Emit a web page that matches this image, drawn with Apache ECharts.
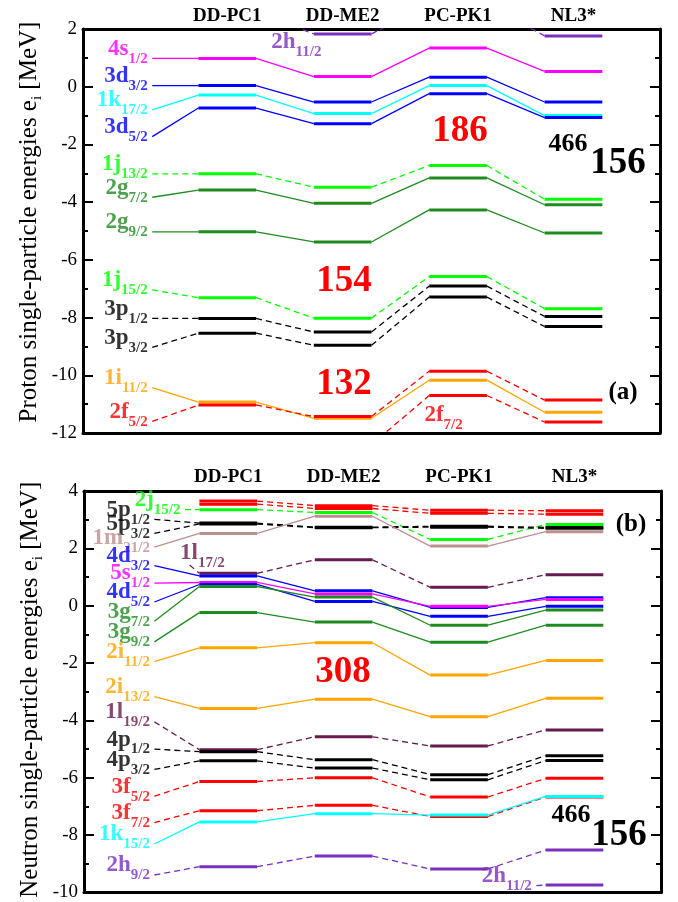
<!DOCTYPE html>
<html><head><meta charset="utf-8">
<script src="https://cdn.jsdelivr.net/npm/echarts@6/dist/echarts.min.js"></script>
<style>html,body{margin:0;padding:0;background:#fff}#c{width:678px;height:902px}</style>
</head><body><div id="c"></div>
<script>
// ---------------- DATA ----------------
const models = ['DD-PC1', 'DD-ME2', 'PC-PK1', 'NL3*'];

// Proton single-particle levels (MeV)
const protonStates = ['4s_1/2','3d_3/2','1k_17/2','3d_5/2','1j_13/2','2g_7/2','2g_9/2','1j_15/2','3p_1/2','3p_3/2','1i_11/2','2f_5/2','2f_7/2','2h_11/2'];
const protonDDPC1 = [0.98, 0.04, -0.29, -0.74, -3.02, -3.58, -5.03, -7.31, -8.03, -8.54, -10.93, -11.03, null, 2.60];
const protonDDME2 = [0.35, -0.53, -0.93, -1.28, -3.48, -4.04, -5.38, -8.02, -8.50, -8.96, -11.49, -11.43, -12.40, 1.83];
const protonPCPK1 = [1.34, 0.33, 0.04, -0.24, -2.73, -3.16, -4.27, -6.58, -6.91, -7.29, -10.17, -9.86, -10.70, 2.85];
const protonNL3 = [0.53, -0.53, -1.00, -1.07, -3.90, -4.09, -5.07, -7.69, -7.96, -8.31, -11.28, -10.86, -11.62, 1.76];
const protonLabelAt = [0.98, 0.04, -0.80, -1.73, -3.02, -3.83, -5.03, -7.04, -8.03, -9.03, -10.43, -11.60, -11.72, 1.21];
const protonColor = ['mag','blue','cyan','blue','lime','green','green','lime','black','black','orange','red','red','violet'];
const protonDashed = [0,0,0,0,1,0,0,1,1,1,0,1,1,1];

// Neutron single-particle levels (MeV)
const neutronStates = ['4f_a','4f_b','2j_15/2','5p_1/2','5p_3/2','1m_21/2','1l_17/2','4d_3/2','5s_1/2','4d_5/2','3g_7/2','3g_9/2','2i_11/2','2i_13/2','1l_19/2','4p_1/2','4p_3/2','3f_5/2','3f_7/2','1k_15/2','2h_9/2','2h_11/2'];
const neutronDDPC1 = [3.65, 3.54, 3.35, 2.88, 2.85, 2.52, 1.13, 1.04, 0.81, 0.74, 0.67, -0.24, -1.47, -3.58, -5.02, -5.09, -5.41, -6.13, -7.15, -7.54, -9.10, null];
const neutronDDME2 = [3.49, 3.39, 3.25, 2.74, 2.72, 3.12, 1.60, 0.52, 0.41, 0.15, 0.30, -0.57, -1.29, -3.26, -4.57, -5.37, -5.66, -6.00, -6.96, -7.25, -8.73, null];
const neutronPCPK1 = [3.33, 3.22, 2.31, 2.77, 2.74, 2.08, 0.64, -0.06, -0.02, -0.37, -0.68, -1.27, -2.42, -3.87, -4.89, -5.89, -6.07, -6.67, -7.35, -7.30, -9.18, null];
const neutronNL3 = [3.31, 3.19, 2.83, 2.73, 2.70, 2.58, 1.08, 0.28, 0.22, -0.02, -0.15, -0.68, -1.91, -3.23, -4.33, -5.23, -5.40, -6.02, -6.67, -6.65, -8.52, -9.74];
const neutronLabelAt = [null, null, 3.35, 3.01, 2.52, 2.04, 1.42, 1.40, 0.79, 0.13, -0.54, -1.26, -1.95, -3.17, -4.05, -5.00, -5.71, -6.64, -7.56, -8.31, -9.39, -9.76];
const neutronColor = ['red','red','lime','black','black','rosy','plum','blue','mag','blue','green','green','orange','orange','plum','black','black','red','red','cyan','violet','violet'];
const neutronDashed = [1,1,1,1,1,0,1,0,0,0,0,0,0,0,1,1,1,1,1,0,1,1];

// Axis ranges / ticks
const protonRange = [-12, 2];
const neutronRange = [-10, 4];
const tickStep = 2;

// ---------------- STYLE / LAYOUT ----------------
const FONT = '"Liberation Serif", "Times New Roman", serif';
const palette = {mag:'#ff00ff', blue:'#0000ff', cyan:'#00ffff', lime:'#00ff00', green:'#1f8b1f', black:'#000000',
  orange:'#ffa500', red:'#ff0000', violet:'#7b2fbe', plum:'#661a4d', rosy:'#bc8f8f'};
const panels = [
  {left:83, top:29, width:577, height:404, range:protonRange, name:'Proton', states:protonStates,
   cols:[protonDDPC1, protonDDME2, protonPCPK1, protonNL3], labelAt:protonLabelAt, color:protonColor, dashed:protonDashed,
   labelX:1.2, special:{'2f_7/2':{x:6.66, link:false}, '2h_11/2':{x:4.21, link:false}}, titleY:16, namePad:[0,0,0,18]},
  {left:84, top:491, width:577, height:403, range:neutronRange, name:'Neutron', states:neutronStates,
   cols:[neutronDDPC1, neutronDDME2, neutronPCPK1, neutronNL3], labelAt:neutronLabelAt, color:neutronColor, dashed:neutronDashed,
   labelX:1.22, special:{'2j_15/2':{x:1.75}, '1l_17/2':{x:1.83, pos:'right', dist:0, off:[-10,-9]}, '2h_11/2':{x:7.84, toModel:3}}, titleY:477, namePad:[0,0,0,4]}
];
const levelLeft = [2, 4, 6, 8];   // level start in x-axis units, each level 1 unit wide

const series = [];
function seg(g, pts, color, width, type, z) {
  series.push({type:'line', xAxisIndex:2*g, yAxisIndex:2*g, data:pts, symbol:'none', silent:true, animation:false,
    clip:true, z:z, lineStyle:{color:color, width:width, type:type}, emphasis:{disabled:true}});
}
function lab(g, x, e, name, color, pos, dist, off) {
  const parts = name.split('_');
  series.push({type:'scatter', xAxisIndex:2*g, yAxisIndex:2*g, data:[[x, e]], symbolSize:1,
    itemStyle:{color:'rgba(0,0,0,0)'}, silent:true, animation:false, z:6, clip:false,
    label:{show:true, position:pos, distance:dist, offset:off,
      formatter:'{m|' + parts[0] + '}{s|' + parts[1] + '}',
      rich:{
        m:{fontFamily:FONT, fontWeight:'bold', fontSize:23, color:color, lineHeight:29, verticalAlign:'top'},
        s:{fontFamily:FONT, fontWeight:'bold', fontSize:15, color:color, lineHeight:15, verticalAlign:'bottom'}
      }}});
}

panels.forEach((P, g) => {
  P.states.forEach((name, k) => {
    const vals = P.cols.map(c => c[k]);
    const col = palette[P.color[k]];
    const dash = P.dashed[k] ? [6, 4] : 'solid';
    for (let i = 0; i < 3; i++) {
      if (vals[i] != null && vals[i+1] != null)
        seg(g, [[levelLeft[i] + 1, vals[i]], [levelLeft[i+1], vals[i+1]]], col, 1.3, dash, 2);
    }
    for (let i = 0; i < 4; i++) {
      if (vals[i] != null) seg(g, [[levelLeft[i], vals[i]], [levelLeft[i] + 1, vals[i]]], col, 3, 'solid', 3);
    }
    const e = P.labelAt[k];
    if (e != null) {
      const sp = P.special[name] || {};
      const x = sp.x != null ? sp.x : P.labelX;
      const to = sp.toModel != null ? sp.toModel : 0;
      if (sp.link !== false && vals[to] != null) seg(g, [[x, e], [levelLeft[to], vals[to]]], col, 1.3, dash, 2);
      lab(g, x, e, name, col, sp.pos || 'left', sp.dist != null ? sp.dist : 4, sp.off || [0, -6.5]);
    }
  });
});

const grid = panels.map(P => ({left:P.left, top:P.top, width:P.width, height:P.height}));
const axLine = {show:true, onZero:false, lineStyle:{color:'#000', width:3}};
const xAxis = [], yAxis = [];
panels.forEach((P, g) => {
  ['bottom','top'].forEach(pos => xAxis.push({gridIndex:g, type:'value', min:0, max:10, position:pos,
    axisLine:axLine, axisTick:{show:false}, axisLabel:{show:false}, splitLine:{show:false}}));
  ['left','right'].forEach(pos => yAxis.push({gridIndex:g, type:'value', min:P.range[0], max:P.range[1], interval:tickStep,
    position:pos, axisLine:axLine,
    axisTick:{show:true, inside:true, length:10, lineStyle:{color:'#000', width:2}},
    minorTick:{show:true, splitNumber:2, length:5, lineStyle:{color:'#000', width:2}},
    axisLabel:{show:pos === 'left', fontFamily:FONT, fontSize:19, color:'#000', margin:6},
    splitLine:{show:false}, minorSplitLine:{show:false},
    name: pos === 'left' ? '{a|' + P.name + ' single-particle energies e}{b|i}{a| [MeV]}' : '',
    nameLocation:'middle', nameGap:38, nameRotate:90, nameMoveOverlap:false,
    nameTextStyle:{padding:P.namePad, rich:{a:{fontFamily:FONT, fontSize:25, color:'#000', lineHeight:28, verticalAlign:'top'},
                         b:{fontFamily:FONT, fontSize:15, color:'#000', lineHeight:15, verticalAlign:'bottom'}}}
  }));
});

const graphic = [];
function txt(x, y, text, size, color, weight) {
  graphic.push({type:'text', x:x, y:y, silent:true, z:100,
    style:{text:text, fontFamily:FONT, fontSize:size, fontWeight:weight || 'bold', fill:color, align:'center', verticalAlign:'middle'}});
}
panels.forEach(P => {
  models.forEach((m, i) => txt(P.left + (levelLeft[i] + 0.5) * P.width / 10, P.titleY, m, 19, '#000'));
});
txt(460, 131, '186', 37, '#ff0000');
txt(344, 281, '154', 37, '#ff0000');
txt(344, 384, '132', 37, '#ff0000');
txt(343, 672, '308', 37, '#ff0000');
txt(623, 393, '(a)', 25, '#000');
txt(631, 525, '(b)', 25, '#000');
txt(568, 144, '466', 26, '#000');
txt(618, 163, '156', 37, '#000');
txt(571, 815, '466', 26, '#000');
txt(619, 835, '156', 37, '#000');

const chart = echarts.init(document.getElementById('c'), null, {renderer:'canvas'});
chart.setOption({animation:false, backgroundColor:'#fff', grid:grid, xAxis:xAxis, yAxis:yAxis, series:series, graphic:graphic});
</script></body></html>
